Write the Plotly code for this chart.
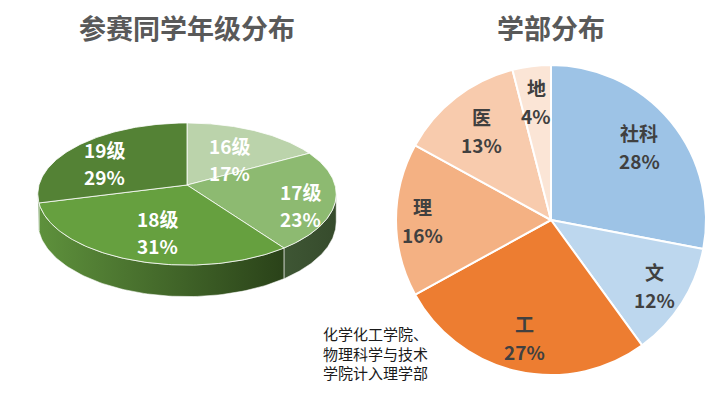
import numpy as np
import plotly.graph_objects as go

# ---------------- data ----------------
title_left = "参赛同学年级分布"
grade_labels = ["16级", "17级", "18级", "19级"]
grade_pct = [17, 23, 31, 29]

title_right = "学部分布"
dept_labels = ["社科", "文", "工", "理", "医", "地"]
dept_pct = [28, 12, 27, 16, 13, 4]

note_lines = ["化学化工学院、", "物理科学与技术", "学院计入理学部"]

# ---------------- styles ----------------
W, H = 721, 393
CJK = "Noto Sans CJK SC"
grade_top = ["#BBD3AB", "#8DBA71", "#66A03F", "#548235"]
grade_side = [["#9FB894", "#8FA884"], ["#3E5634", "#364B2C"],
              ["#5E913C", "#2A4219"], ["#5A8A3A", "#50803A"]]
dept_colors = ["#9DC3E6", "#BDD7EE", "#ED7D31", "#F4B183", "#F8CBAD", "#FBE5D6"]
grade_label_r = [0.6, 0.77, 0.55, 0.75]   # radial placement of labels (fraction of radius)
dept_label_r = [0.74, 0.79, 0.78, 0.83, 0.73, 0.77]

# 3D projection parameters for the left pie (unit radius = horizontal semi-axis)
K = 0.127     # perspective strength
B = 0.4723    # vertical squash of the disc
D = 0.186     # thickness of the disc


def proj(theta, rad=1.0, level=0.0):
    X = rad * np.sin(theta)
    Z = rad * np.cos(theta)
    w = 1 + K * Z
    return X / w, (B * Z - D * level) / w


fig = go.Figure()
annotations = []

# ---------- left: 3D-style pie ----------
fr = np.array(grade_pct, dtype=float) / sum(grade_pct)
edges = np.concatenate([[0], np.cumsum(fr)]) * 2 * np.pi
v0 = np.arccos(-K)
v1 = 2 * np.pi - v0

# side walls
for i in range(len(grade_pct)):
    s, e = max(edges[i], v0), min(edges[i + 1], v1)
    if e <= s:
        continue
    t = np.linspace(s, e, 80)
    xt, yt = proj(t, 1.0, 0.0)
    xb, yb = proj(t[::-1], 1.0, 1.0)
    xs = np.concatenate([xt, xb, xt[:1]])
    ys = np.concatenate([yt, yb, yt[:1]])
    fig.add_trace(go.Scatter(
        x=xs, y=ys, mode="lines", fill="toself",
        fillgradient=dict(type="horizontal",
                          colorscale=[[0, grade_side[i][0]], [1, grade_side[i][1]]]),
        line=dict(color="rgba(255,255,255,0.55)", width=1),
        hoverinfo="skip", showlegend=False, xaxis="x", yaxis="y"))

# top faces
for i in range(len(grade_pct)):
    t = np.linspace(edges[i], edges[i + 1], 120)
    xa, ya = proj(t)
    xs = np.concatenate([[0], xa, [0]])
    ys = np.concatenate([[0], ya, [0]])
    fig.add_trace(go.Scatter(
        x=xs, y=ys, mode="lines", fill="toself", fillcolor=grade_top[i],
        line=dict(color="rgba(255,255,255,0.8)", width=1),
        hoverinfo="skip", showlegend=False, xaxis="x", yaxis="y"))

# labels (two lines, separated a little wider than default line height)
mids = (edges[:-1] + edges[1:]) / 2
for i, (lab, p) in enumerate(zip(grade_labels, grade_pct)):
    lx, ly = proj(mids[i], grade_label_r[i])
    for txt, shift in ((lab, 5.5), (f"{p}%", -21.5)):
        annotations.append(dict(
            text=f"<b>{txt}</b>", x=lx, y=ly, xref="x", yref="y", yshift=shift,
            xanchor="center", yanchor="middle", showarrow=False,
            font=dict(family=CJK, size=19, color="white")))

# ---------- right: flat pie ----------
cx, cy, R = 551, 220, 155
dom_x = [(cx - R) / W, (cx + R) / W]
dom_y = [1 - (cy + R) / H, 1 - (cy - R) / H]
fig.add_trace(go.Pie(
    labels=dept_labels, values=dept_pct, sort=False, direction="clockwise",
    rotation=0, textinfo="none", hoverinfo="skip", showlegend=False,
    marker=dict(colors=dept_colors, line=dict(color="white", width=2)),
    domain=dict(x=dom_x, y=dom_y)))

fr2 = np.array(dept_pct, dtype=float) / sum(dept_pct)
e2 = np.concatenate([[0], np.cumsum(fr2)]) * 2 * np.pi
m2 = (e2[:-1] + e2[1:]) / 2
for i, (lab, p) in enumerate(zip(dept_labels, dept_pct)):
    lx, ly = dept_label_r[i] * np.sin(m2[i]), dept_label_r[i] * np.cos(m2[i])
    for txt, shift in ((lab, 14), (f"{p}%", -14)):
        annotations.append(dict(
            text=f"<b>{txt}</b>", x=lx, y=ly, xref="x2", yref="y2", yshift=shift,
            xanchor="center", yanchor="middle", showarrow=False,
            font=dict(family=CJK, size=19, color="#404040")))

# ---------- titles & note ----------
for txt, xc in ((title_left, 187), (title_right, cx)):
    annotations.append(dict(
        text=f"<b>{txt}</b>", x=xc / W, y=1 - 27 / H, xref="paper", yref="paper",
        xanchor="center", yanchor="middle", showarrow=False,
        font=dict(family=CJK, size=27, color="#595959")))
annotations.append(dict(
    text="<br>".join(note_lines), x=321 / W, y=1 - 321 / H, xref="paper", yref="paper",
    xanchor="left", yanchor="top", align="left", showarrow=False,
    font=dict(family=CJK, size=15, color="#1a1a1a")))

# ---------- layout ----------
unit = 148.0
lcx, lcy = 187.0, 185.0
half = W * 0.5
ax_off = dict(visible=False, showgrid=False, zeroline=False, fixedrange=True)
fig.update_layout(
    width=W, height=H, margin=dict(l=0, r=0, t=0, b=0),
    paper_bgcolor="white", plot_bgcolor="rgba(0,0,0,0)",
    xaxis=dict(domain=[0, 0.5], range=[-lcx / unit, (half - lcx) / unit], **ax_off),
    yaxis=dict(domain=[0, 1], range=[-(H - lcy) / unit, lcy / unit], **ax_off),
    xaxis2=dict(domain=dom_x, range=[-1, 1], anchor="y2", **ax_off),
    yaxis2=dict(domain=dom_y, range=[-1, 1], anchor="x2", **ax_off),
    annotations=annotations,
)

fig.write_html("out.html", config={"displayModeBar": False},
               post_script="document.body.style.margin='0';")
